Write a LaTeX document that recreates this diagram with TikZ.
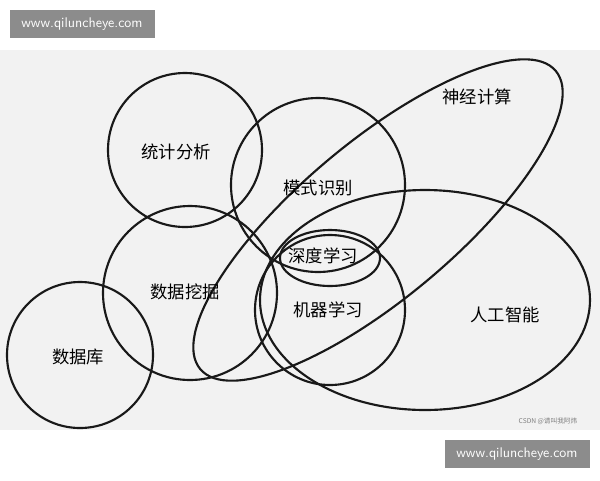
\documentclass[tikz,border=0pt]{standalone}
\usepackage{fontspec}
\newfontfamily\cjk{Noto Sans CJK SC}
\begin{document}
\begin{tikzpicture}[x=0.75pt,y=-0.75pt,
  ring/.style={draw=black!90,line width=1.6pt},
  lab/.style={font=\cjk\fontsize{13}{13}\selectfont},
  wm/.style={fill=black!45,text=white,font=\sffamily\fontsize{10.5}{11}\selectfont,minimum width=108.75pt,minimum height=21pt}]
\useasboundingbox (0,0) rectangle (600,480);
\fill[white] (0,0) rectangle (600,480);
\fill[black!5] (0,50) rectangle (600,430);
\node[wm] (w1) at (82,24) {www.qiluncheye.com};
\node[wm] (w2) at (517,454) {www.qiluncheye.com};
\draw[ring] (185,150) circle (77);
\draw[ring] (318,185) circle (87);
\draw[ring] (190,293) circle (87);
\draw[ring] (80,355) circle (73);
\draw[ring] (330,310) circle (75);
\draw[ring] (330,258) ellipse (50 and 28);
\draw[ring,rotate around={40:(378,220)}] (378,220) ellipse (232 and 78);
\draw[ring] (425,300) ellipse (165 and 110);
\node[lab] (a) at (176,152) {统计分析};
\node[lab] (b) at (318,188) {模式识别};
\node[lab] (c) at (185,292) {数据挖掘};
\node[lab] (d) at (78,357) {数据库};
\node[lab] (e) at (328,310) {机器学习};
\node[lab] (f) at (323,256) {深度学习};
\node[lab] (g) at (477,97) {神经计算};
\node[lab] (h) at (505,315) {人工智能};
\node[font=\cjk\fontsize{5}{5}\selectfont,text=black!50] (s) at (548,421) {CSDN @请叫我阿炜};
\end{tikzpicture}
\end{document}
